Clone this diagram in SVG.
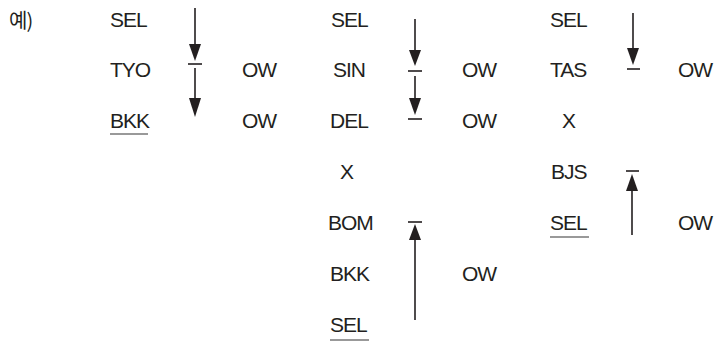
<svg xmlns="http://www.w3.org/2000/svg" width="716" height="345" viewBox="0 0 716 345">
<defs>
<style>
text{font-family:"Liberation Sans",Arial,sans-serif;font-size:21px;fill:#231f20;letter-spacing:-1px}
.k{font-family:"Noto Sans CJK KR","Noto Sans",sans-serif;font-size:20px;letter-spacing:-1px}
.ln{stroke:#231f20;stroke-width:1.6;fill:none}
.tk{stroke:#231f20;stroke-width:1.6}
.ul{stroke:#777;stroke-width:1.3}
.hd{fill:#231f20}
</style>
</defs>
<g id="label"><text class="k" x="9" y="28">예)</text></g>
<g id="col1">
<text x="110" y="27">SEL</text>
<text x="110" y="77">TYO</text>
<text x="110" y="128">BKK</text>
<line class="ul" x1="110" y1="134" x2="148" y2="134"/>
<text x="242" y="77">OW</text>
<text x="242" y="128">OW</text>
</g>
<g id="col2">
<text x="331" y="27">SEL</text>
<text x="333" y="77">SIN</text>
<text x="330" y="128">DEL</text>
<text x="340" y="179">X</text>
<text x="328" y="230">BOM</text>
<text x="330" y="281">BKK</text>
<text x="330" y="332">SEL</text>
<line class="ul" x1="330" y1="340" x2="369" y2="340"/>
<text x="462" y="77">OW</text>
<text x="462" y="128">OW</text>
<text x="462" y="281">OW</text>
</g>
<g id="col3">
<text x="550" y="27">SEL</text>
<text x="550" y="77">TAS</text>
<text x="562" y="128">X</text>
<text x="551" y="179">BJS</text>
<text x="550" y="230">SEL</text>
<line class="ul" x1="550" y1="237" x2="589" y2="237"/>
<text x="678" y="77">OW</text>
<text x="678" y="230">OW</text>
</g>
<g id="connectors">
<line class="ln" x1="195" y1="8" x2="195" y2="46"/>
<path class="hd" d="M189,44 L201,44 L195,61 Z"/>
<line class="tk" x1="188" y1="64" x2="202" y2="64"/>
<line class="ln" x1="195" y1="68" x2="195" y2="100"/>
<path class="hd" d="M189,98 L201,98 L195,117 Z"/>

<line class="ln" x1="415" y1="19" x2="415" y2="52"/>
<path class="hd" d="M409,50 L421,50 L415,66 Z"/>
<line class="tk" x1="408" y1="71" x2="422" y2="71"/>
<line class="ln" x1="415" y1="76" x2="415" y2="100"/>
<path class="hd" d="M409,98 L421,98 L415,115 Z"/>
<line class="tk" x1="408" y1="119" x2="422" y2="119"/>

<line class="ln" x1="633" y1="13" x2="633" y2="50"/>
<path class="hd" d="M627,48 L639,48 L633,65 Z"/>
<line class="tk" x1="627" y1="69" x2="640" y2="69"/>

<line class="tk" x1="408" y1="222" x2="422" y2="222"/>
<path class="hd" d="M415,224 L421,240 L409,240 Z"/>
<line class="ln" x1="415" y1="238" x2="415" y2="320"/>

<line class="tk" x1="626" y1="171" x2="639" y2="171"/>
<path class="hd" d="M632,174 L638,191 L626,191 Z"/>
<line class="ln" x1="632" y1="189" x2="632" y2="235"/>
</g>
</svg>
